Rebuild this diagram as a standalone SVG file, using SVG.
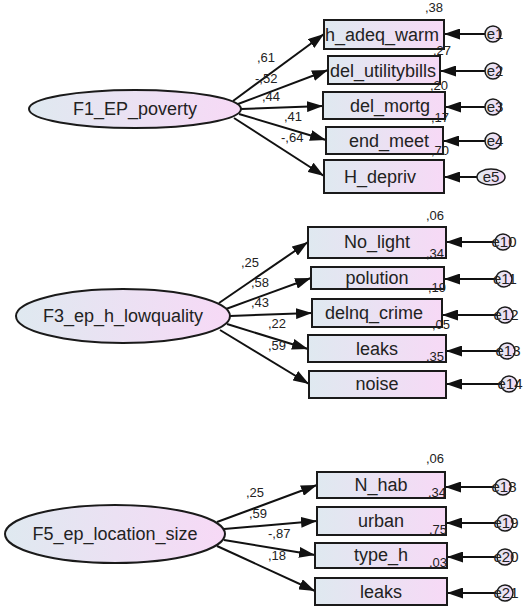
<svg xmlns="http://www.w3.org/2000/svg" width="526" height="608" viewBox="0 0 526 608">
<defs>
<linearGradient id="g" x1="0" y1="0" x2="1" y2="0">
<stop offset="0" stop-color="#dfe9f0"/>
<stop offset="1" stop-color="#f7d9f6"/>
</linearGradient>
<marker id="ah" markerUnits="userSpaceOnUse" markerWidth="17" markerHeight="11" refX="16" refY="5.5" orient="auto">
<path d="M0,0 L16,5.5 L0,11 z" fill="#111"/>
</marker>
</defs>
<style>
.n{fill:url(#g);stroke:#1a1a1a;stroke-width:2}
.t{font-family:"Liberation Sans",Arial,sans-serif;font-size:18px;fill:#222;text-anchor:middle}
.v{font-family:"Liberation Sans",Arial,sans-serif;font-size:13px;fill:#222}
.e{fill:url(#g);stroke:#1a1a1a;stroke-width:1.5}
.et{font-family:"Liberation Sans",Arial,sans-serif;font-size:15px;fill:#222;text-anchor:middle}
.c line{stroke:#111;stroke-width:2;marker-end:url(#ah)}
</style>
<rect width="526" height="608" fill="#fff"/>
<g class="c" id="connectors">
<line x1="233" y1="101" x2="324" y2="34"/>
<line x1="238" y1="104" x2="328" y2="70"/>
<line x1="241" y1="109" x2="323" y2="106"/>
<line x1="239" y1="114" x2="326" y2="140"/>
<line x1="234" y1="118" x2="324" y2="176"/>
<line x1="485" y1="34" x2="444" y2="34"/>
<line x1="485" y1="71" x2="440" y2="71"/>
<line x1="485" y1="107" x2="445" y2="107"/>
<line x1="485" y1="141" x2="443" y2="141"/>
<line x1="477" y1="177" x2="444" y2="177"/>
<line x1="219" y1="303" x2="308" y2="242"/>
<line x1="226" y1="309" x2="311" y2="278"/>
<line x1="230" y1="316" x2="312" y2="313"/>
<line x1="227" y1="324" x2="308" y2="349"/>
<line x1="220" y1="330" x2="309" y2="384"/>
<line x1="494" y1="242" x2="446" y2="242"/>
<line x1="496" y1="279" x2="444" y2="279"/>
<line x1="497" y1="315" x2="442" y2="315"/>
<line x1="499" y1="351" x2="446" y2="351"/>
<line x1="501" y1="384" x2="446" y2="384"/>
<line x1="217" y1="522" x2="317" y2="485"/>
<line x1="224" y1="529" x2="317" y2="521"/>
<line x1="224" y1="540" x2="315" y2="555"/>
<line x1="217" y1="546" x2="315" y2="591"/>
<line x1="494" y1="487" x2="445" y2="487"/>
<line x1="496" y1="523" x2="446" y2="523"/>
<line x1="496" y1="557" x2="447" y2="557"/>
<line x1="496" y1="593" x2="447" y2="593"/>
</g>
<g id="F1">
<ellipse class="n" cx="135" cy="109" rx="106" ry="19"/>
<text class="t" x="135" y="115">F1_EP_poverty</text>
</g>
<g id="h_adeq_warm"><rect class="n" x="324" y="20" width="120" height="29"/><text class="t" x="382" y="41">h_adeq_warm</text></g>
<g id="del_utilitybills"><rect class="n" x="328" y="56" width="112" height="28"/><text class="t" x="383" y="77">del_utilitybills</text></g>
<g id="del_mortg"><rect class="n" x="323" y="92" width="122" height="27"/><text class="t" x="390" y="112">del_mortg</text></g>
<g id="end_meet"><rect class="n" x="326" y="127" width="117" height="27"/><text class="t" x="389" y="147">end_meet</text></g>
<g id="H_depriv"><rect class="n" x="324" y="160" width="120" height="33"/><text class="t" x="380" y="183">H_depriv</text></g>
<g id="e1"><circle class="e" cx="493" cy="34" r="8"/><text class="et" x="495" y="39">e1</text></g>
<g id="e2"><circle class="e" cx="493" cy="71" r="8"/><text class="et" x="495" y="76">e2</text></g>
<g id="e3"><circle class="e" cx="493" cy="107" r="8"/><text class="et" x="495" y="112">e3</text></g>
<g id="e4"><circle class="e" cx="493" cy="141" r="8"/><text class="et" x="495" y="146">e4</text></g>
<g id="e5"><ellipse class="e" cx="491" cy="177" rx="14" ry="8"/><text class="et" x="491" y="182">e5</text></g>
<g id="labels1">
<text class="v" x="425" y="12">,38</text>
<text class="v" x="433" y="55">,27</text>
<text class="v" x="430" y="90">,20</text>
<text class="v" x="431" y="122">,17</text>
<text class="v" x="431" y="155">,70</text>
<text class="v" x="257" y="62">,61</text>
<text class="v" x="255" y="83">-,52</text>
<text class="v" x="262" y="101">,44</text>
<text class="v" x="284" y="121">,41</text>
<text class="v" x="281" y="142">-,64</text>
</g>
<g id="F3">
<ellipse class="n" cx="123" cy="316" rx="107" ry="27"/>
<text class="t" x="123" y="322">F3_ep_h_lowquality</text>
</g>
<g id="No_light"><rect class="n" x="308" y="227" width="138" height="31"/><text class="t" x="377" y="248">No_light</text></g>
<g id="polution"><rect class="n" x="311" y="267" width="133" height="22"/><text class="t" x="377" y="284">polution</text></g>
<g id="delnq_crime"><rect class="n" x="312" y="299" width="130" height="28"/><text class="t" x="374" y="319">delnq_crime</text></g>
<g id="leaks1"><rect class="n" x="308" y="335" width="138" height="27"/><text class="t" x="377" y="355">leaks</text></g>
<g id="noise"><rect class="n" x="309" y="371" width="137" height="27"/><text class="t" x="377" y="390">noise</text></g>
<g id="e10"><circle class="e" cx="503" cy="242" r="8"/><text class="et" x="504" y="247">e10</text></g>
<g id="e11"><circle class="e" cx="504" cy="279" r="8"/><text class="et" x="505" y="284">e11</text></g>
<g id="e12"><circle class="e" cx="505" cy="315" r="8"/><text class="et" x="506" y="320">e12</text></g>
<g id="e13"><circle class="e" cx="507" cy="351" r="8"/><text class="et" x="508" y="356">e13</text></g>
<g id="e14"><circle class="e" cx="509" cy="384" r="8"/><text class="et" x="510" y="389">e14</text></g>
<g id="labels2">
<text class="v" x="426" y="220">,06</text>
<text class="v" x="426" y="258">,34</text>
<text class="v" x="428" y="292">,19</text>
<text class="v" x="432" y="329">,05</text>
<text class="v" x="426" y="361">,35</text>
<text class="v" x="241" y="267">,25</text>
<text class="v" x="251" y="287">,58</text>
<text class="v" x="251" y="307">,43</text>
<text class="v" x="268" y="328">,22</text>
<text class="v" x="268" y="350">,59</text>
</g>
<g id="F5">
<ellipse class="n" cx="115" cy="534" rx="110" ry="29"/>
<text class="t" x="115" y="540">F5_ep_location_size</text>
</g>
<g id="N_hab"><rect class="n" x="317" y="472" width="128" height="26"/><text class="t" x="381" y="491">N_hab</text></g>
<g id="urban"><rect class="n" x="317" y="507" width="129" height="28"/><text class="t" x="381" y="527">urban</text></g>
<g id="type_h"><rect class="n" x="315" y="543" width="132" height="25"/><text class="t" x="381" y="561">type_h</text></g>
<g id="leaks2"><rect class="n" x="315" y="578" width="132" height="27"/><text class="t" x="381" y="598">leaks</text></g>
<g id="e18"><circle class="e" cx="503" cy="487" r="8"/><text class="et" x="504" y="492">e18</text></g>
<g id="e19"><circle class="e" cx="505" cy="523" r="8"/><text class="et" x="506" y="528">e19</text></g>
<g id="e20"><circle class="e" cx="505" cy="557" r="8"/><text class="et" x="506" y="562">e20</text></g>
<g id="e21"><circle class="e" cx="505" cy="593" r="8"/><text class="et" x="506" y="598">e21</text></g>
<g id="labels3">
<text class="v" x="426" y="463">,06</text>
<text class="v" x="428" y="497">,34</text>
<text class="v" x="429" y="534">,75</text>
<text class="v" x="429" y="567">,03</text>
<text class="v" x="246" y="497">,25</text>
<text class="v" x="249" y="518">,59</text>
<text class="v" x="268" y="538">-,87</text>
<text class="v" x="268" y="560">,18</text>
</g>
</svg>
